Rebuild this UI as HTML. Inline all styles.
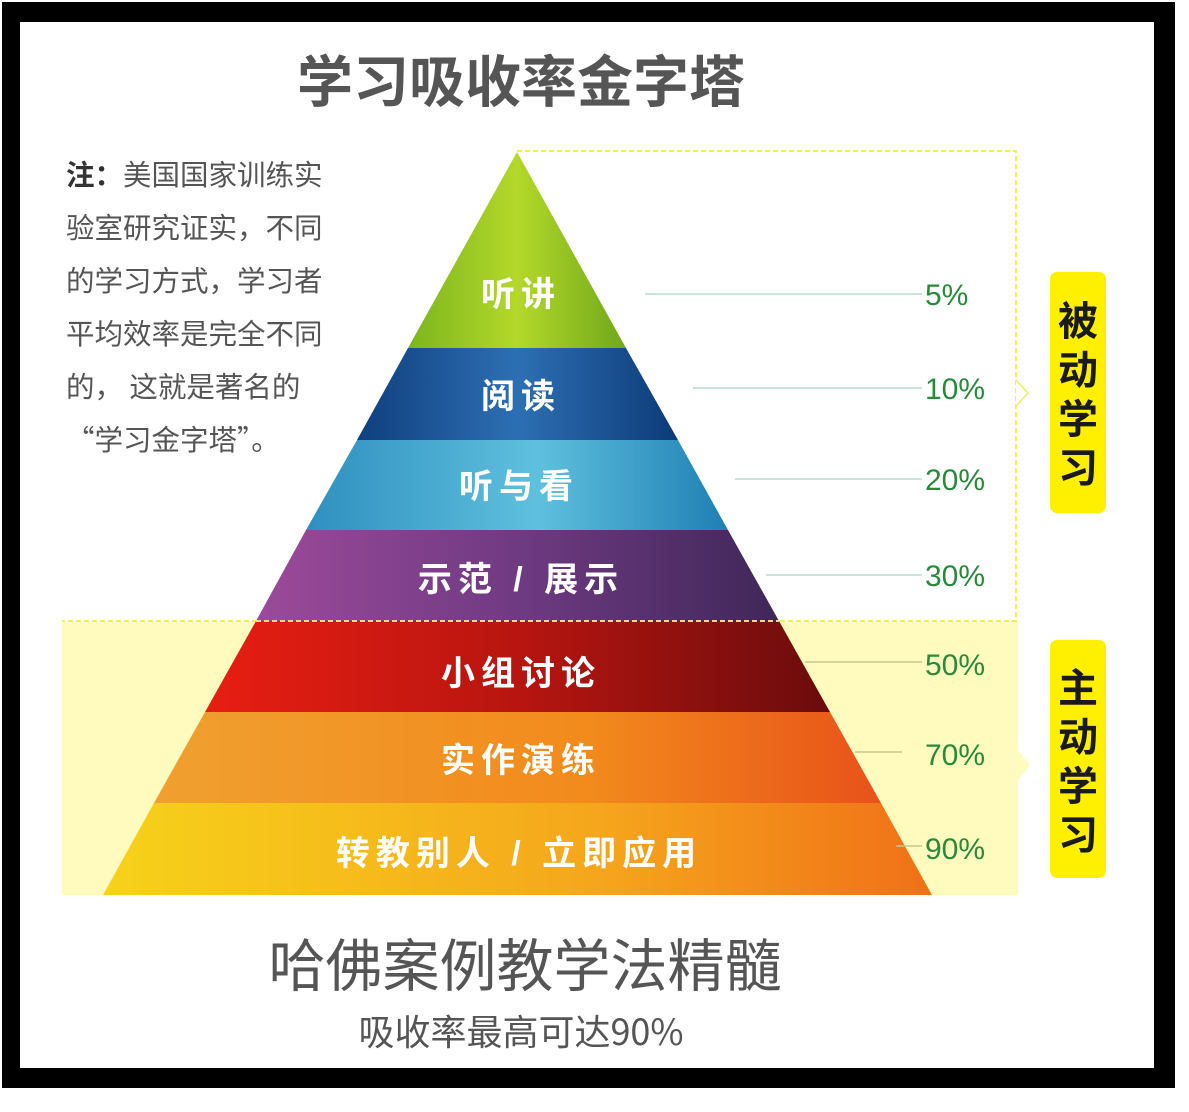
<!DOCTYPE html>
<html><head><meta charset="utf-8"><style>
html,body{margin:0;padding:0;background:#fff;}
body{width:1189px;height:1112px;overflow:hidden;position:relative;font-family:"Liberation Sans","Noto Sans CJK SC",sans-serif;}
</style></head><body>
<svg width="1189" height="1112" viewBox="0 0 1189 1112" xmlns="http://www.w3.org/2000/svg" style="position:absolute;left:0;top:0">
<defs>
<linearGradient id="g1" x1="0" y1="0" x2="1" y2="0"><stop offset="0" stop-color="#7cb51e"/><stop offset="0.5" stop-color="#b4d82a"/><stop offset="1" stop-color="#6fa81a"/></linearGradient>
<linearGradient id="g2" x1="0" y1="0" x2="1" y2="0"><stop offset="0" stop-color="#0f3f7e"/><stop offset="0.5" stop-color="#2d6fb3"/><stop offset="1" stop-color="#0c3a78"/></linearGradient>
<linearGradient id="g3" x1="0" y1="0" x2="1" y2="0"><stop offset="0" stop-color="#2f8fbf"/><stop offset="0.55" stop-color="#5fc0de"/><stop offset="1" stop-color="#1f7fb3"/></linearGradient>
<linearGradient id="g4" x1="0" y1="0" x2="1" y2="0"><stop offset="0" stop-color="#9c4a9a"/><stop offset="0.5" stop-color="#6f3a82"/><stop offset="1" stop-color="#3f2758"/></linearGradient>
<linearGradient id="g5" x1="0" y1="0" x2="1" y2="0"><stop offset="0" stop-color="#e81e12"/><stop offset="0.5" stop-color="#b81510"/><stop offset="1" stop-color="#6a0c0c"/></linearGradient>
<linearGradient id="g6" x1="0" y1="0" x2="1" y2="0"><stop offset="0" stop-color="#f0a030"/><stop offset="0.6" stop-color="#f28a1c"/><stop offset="1" stop-color="#e8521a"/></linearGradient>
<linearGradient id="g7" x1="0" y1="0" x2="1" y2="0"><stop offset="0" stop-color="#f6d21a"/><stop offset="0.6" stop-color="#f5a61c"/><stop offset="1" stop-color="#f07018"/></linearGradient>
</defs>
<rect x="0" y="0" width="1189" height="1112" fill="#fff"/>
<rect x="2" y="2" width="1173" height="1086" fill="#000"/>
<rect x="20" y="22" width="1134" height="1046" fill="#fff"/>
<rect x="62" y="621" width="956" height="274" fill="#fffbbf"/>
<path d="M1018 750 L1030 765 L1018 780 Z" fill="#fffbbf"/>
<path d="M517 151 L1016 151 L1016 621 L62 621" fill="none" stroke="#eef05a" stroke-width="2" stroke-dasharray="5,3"/>
<path d="M1016 380 L1028 393 L1016 406" fill="#fff" stroke="#eef05a" stroke-width="1.5"/>
<polygon points="517,152 626,348 408,348" fill="url(#g1)"/>
<polygon points="408,348 626,348 678,440 357,440" fill="url(#g2)"/>
<polygon points="357,440 678,440 728,530 306,530" fill="url(#g3)"/>
<polygon points="306,530 728,530 779,621 256,621" fill="url(#g4)"/>
<polygon points="256,621 779,621 830,712 205,712" fill="url(#g5)"/>
<polygon points="205,712 830,712 881,803 154,803" fill="url(#g6)"/>
<polygon points="154,803 881,803 932,895 103,895" fill="url(#g7)"/>
<line x1="256" y1="621" x2="779" y2="621" stroke="#f6d890" stroke-width="2" stroke-dasharray="5,3"/>
<g font-family="'Liberation Sans','Noto Sans CJK SC',sans-serif" font-weight="bold" fill="#fff" font-size="34" text-anchor="middle" letter-spacing="6">
<text x="521" y="306">听讲</text>
<text x="521" y="408">阅读</text>
<text x="519" y="498">听与看</text>
<text x="521" y="591">示范 / 展示</text>
<text x="521" y="685">小组讨论</text>
<text x="521" y="772">实作演练</text>
<text x="519" y="865">转教别人 / 立即应用</text>
</g>
<g stroke="#b8d8d0" stroke-width="1.5">
<line x1="645" y1="294" x2="922" y2="294"/>
<line x1="693" y1="388" x2="922" y2="388"/>
<line x1="735" y1="479" x2="922" y2="479"/>
<line x1="766" y1="575" x2="922" y2="575"/>
</g>
<g stroke="#c8c890" stroke-width="1.5">
<line x1="805" y1="662" x2="922" y2="662"/>
<line x1="855" y1="752" x2="902" y2="752"/>
<line x1="896" y1="846" x2="922" y2="846"/>
</g>
<g font-family="'Liberation Sans',sans-serif" fill="#2a8a3c" font-size="30">
<text x="925" y="305">5%</text>
<text x="925" y="399">10%</text>
<text x="925" y="490">20%</text>
<text x="925" y="586">30%</text>
<text x="925" y="675">50%</text>
<text x="925" y="765">70%</text>
<text x="925" y="859">90%</text>
</g>
<rect x="1050" y="272" width="56" height="241" rx="7" fill="#fff000"/>
<rect x="1050" y="640" width="56" height="238" rx="7" fill="#fff000"/>
<g font-family="'Noto Sans CJK SC',sans-serif" font-weight="bold" fill="#1a1a1a" font-size="40" text-anchor="middle">
<text x="1078" y="335">被</text><text x="1078" y="384">动</text><text x="1078" y="433">学</text><text x="1078" y="482">习</text>
<text x="1078" y="702">主</text><text x="1078" y="751">动</text><text x="1078" y="800">学</text><text x="1078" y="849">习</text>
</g>
<text x="521" y="102" text-anchor="middle" font-family="'Noto Sans CJK SC',sans-serif" font-weight="bold" font-size="56" fill="#555">学习吸收率金字塔</text>
<g font-family="'Noto Sans CJK SC',sans-serif" font-size="28.5" fill="#555">
<text x="66" y="185"><tspan font-weight="bold" fill="#333">注：</tspan>美国国家训练实</text>
<text x="66" y="238">验室研究证实，不同</text>
<text x="66" y="291">的学习方式，学习者</text>
<text x="66" y="344">平均效率是完全不同</text>
<text x="66" y="397">的， 这就是著名的</text>
<text x="66" y="450">“学习金字塔”。</text>
</g>
<text x="525" y="986" text-anchor="middle" font-family="'Noto Sans CJK SC',sans-serif" font-size="57" fill="#555">哈佛案例教学法精髓</text>
<text x="521" y="1045" text-anchor="middle" font-family="'Noto Sans CJK SC',sans-serif" font-size="36" fill="#555">吸收率最高可达90%</text>
</svg>
</body></html>
